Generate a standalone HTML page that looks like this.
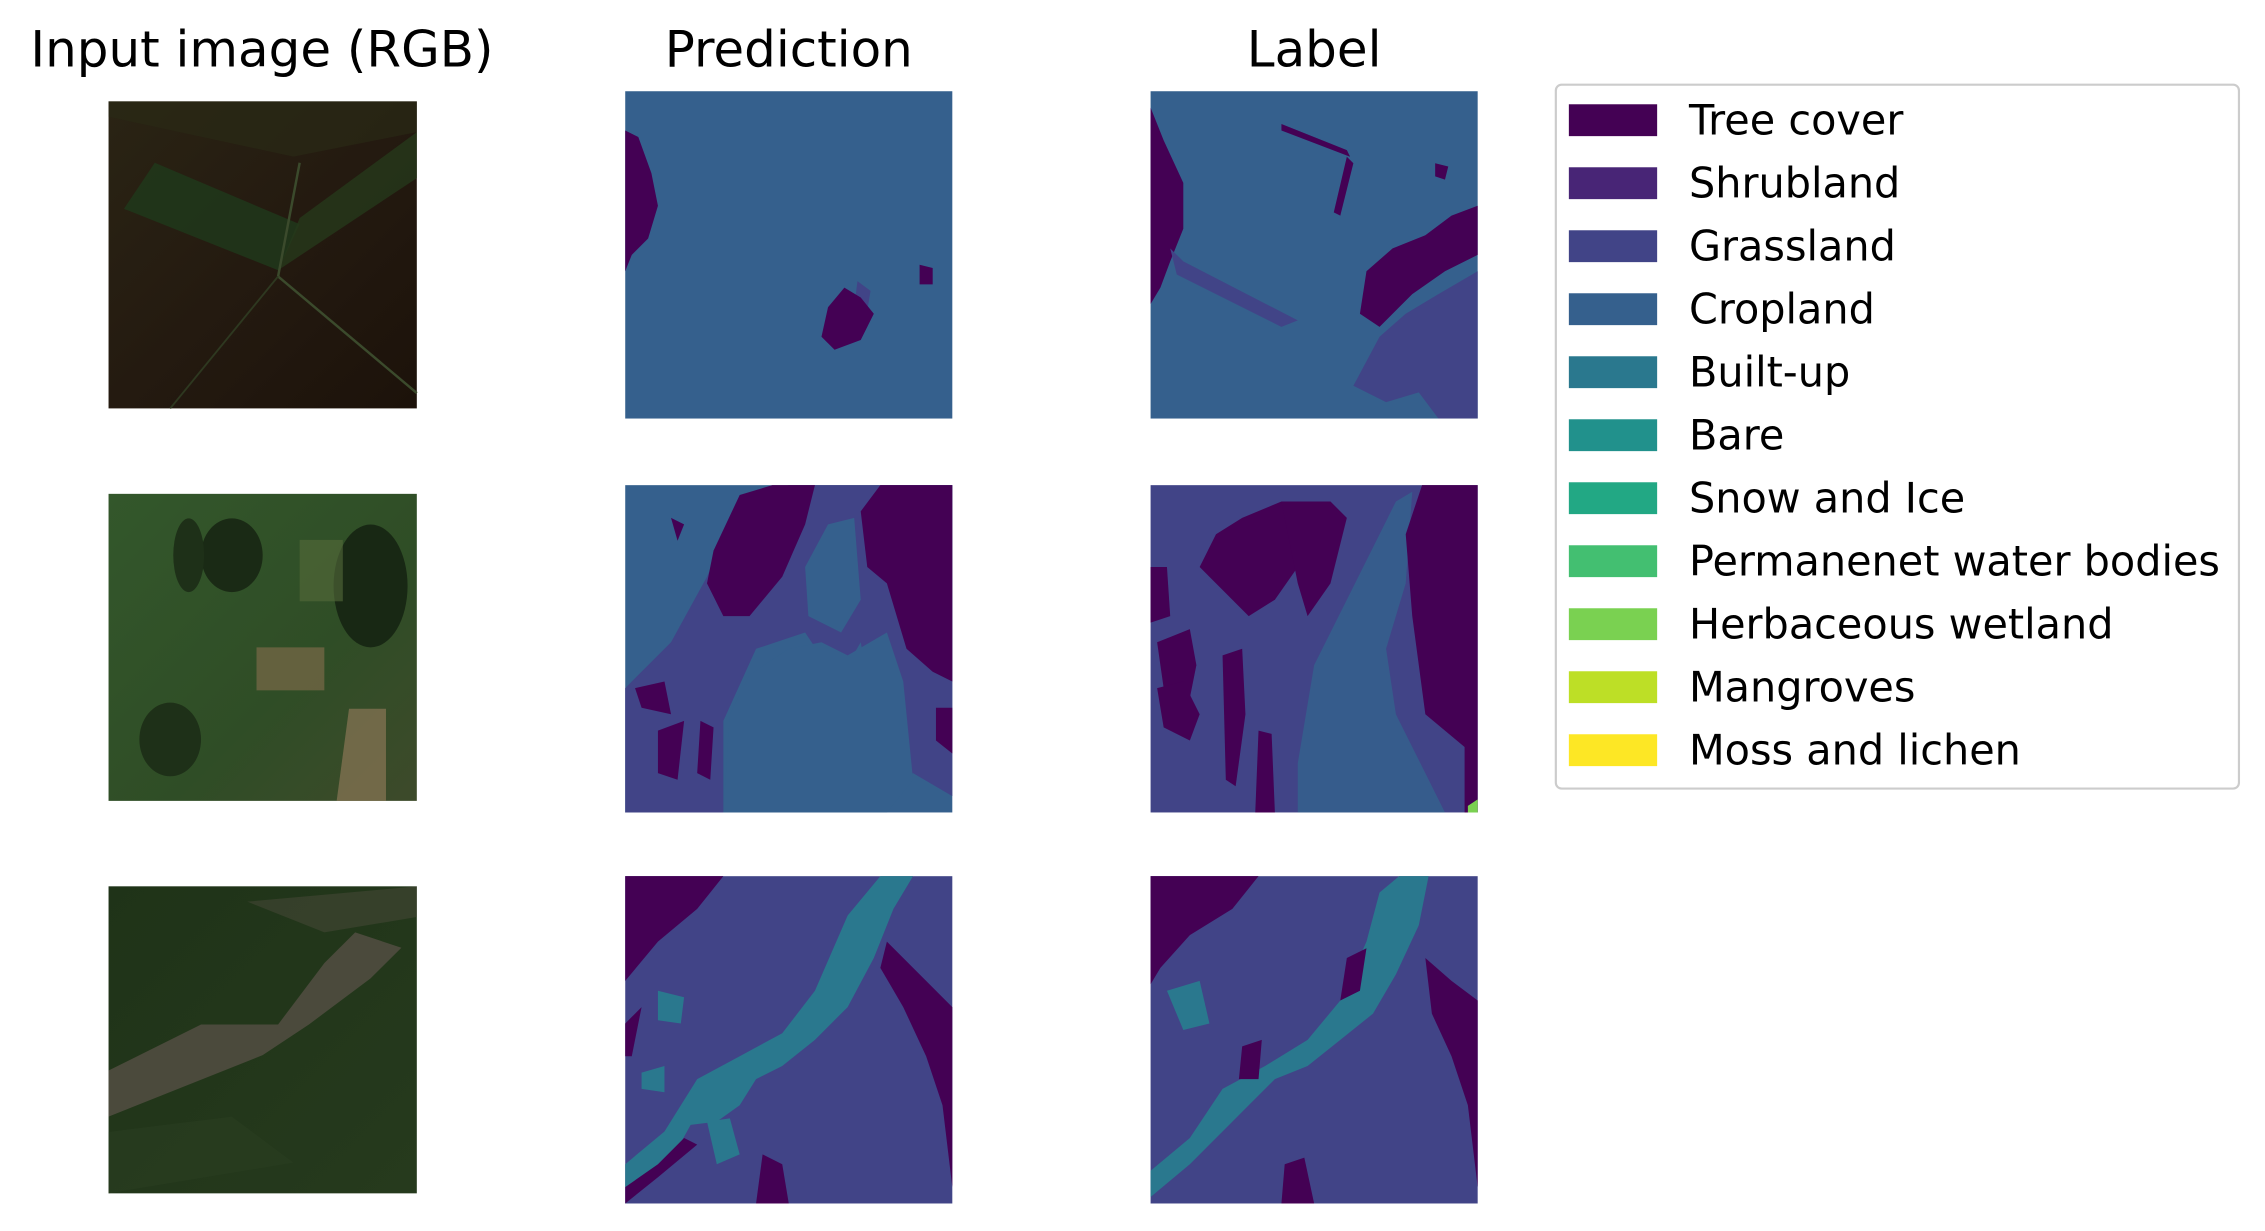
<!DOCTYPE html>
<html><head><meta charset="utf-8"><style>
html,body{margin:0;padding:0;background:#fff;}
svg{display:block;}
text{font-family:"DejaVu Sans","Liberation Sans",sans-serif;fill:#000;}
</style></head><body>
<svg id="fig" width="2265" height="1231" viewBox="0 0 1565 850" preserveAspectRatio="none" xmlns="http://www.w3.org/2000/svg">
<defs>
<linearGradient id="g1" x1="0" y1="0" x2="1" y2="1"><stop offset="0" stop-color="#2a2414"/><stop offset="0.5" stop-color="#241a10"/><stop offset="1" stop-color="#1c120a"/></linearGradient>
<linearGradient id="g2" x1="0" y1="0" x2="1" y2="1"><stop offset="0" stop-color="#33572b"/><stop offset="0.6" stop-color="#2f4d26"/><stop offset="1" stop-color="#3d4a2a"/></linearGradient>
<linearGradient id="g3" x1="0" y1="0" x2="1" y2="1"><stop offset="0" stop-color="#1f3318"/><stop offset="1" stop-color="#263a1d"/></linearGradient>
</defs>
<text x="181" y="46" font-size="34.5" text-anchor="middle">Input image (RGB)</text>
<text x="545" y="46" font-size="34.5" text-anchor="middle">Prediction</text>
<text x="908" y="46" font-size="34.5" text-anchor="middle">Label</text>

<!-- RGB images -->
<g transform="translate(75,70) scale(2.13,2.12)">
<rect width="100" height="100" fill="url(#g1)"/>
<polygon points="5,35 55,55 62,40 15,20" fill="#1f3a1c" opacity="0.8"/>
<polygon points="55,55 100,25 100,10 62,38" fill="#25381a" opacity="0.8"/>
<polygon points="0,0 100,0 100,10 60,18 0,5" fill="#2a2a16" opacity="0.7"/>
<line x1="55" y1="57" x2="100" y2="95" stroke="#3b4a2c" stroke-width="0.8"/>
<line x1="55" y1="57" x2="62" y2="20" stroke="#3b4a2c" stroke-width="0.8"/>
<line x1="55" y1="57" x2="20" y2="100" stroke="#2e3820" stroke-width="0.6"/>
</g>
<g transform="translate(75,341) scale(2.13,2.12)">
<rect width="100" height="100" fill="url(#g2)"/>
<ellipse cx="40" cy="20" rx="10" ry="12" fill="#1a2a15"/>
<ellipse cx="26" cy="20" rx="5" ry="12" fill="#1e3018"/>
<ellipse cx="85" cy="30" rx="12" ry="20" fill="#182814"/>
<ellipse cx="20" cy="80" rx="10" ry="12" fill="#1e3018"/>
<rect x="48" y="50" width="22" height="14" fill="#7a6a48" opacity="0.7"/>
<rect x="62" y="15" width="14" height="20" fill="#556a3a" opacity="0.6"/>
<polygon points="78,70 90,70 90,100 74,100" fill="#8a7655" opacity="0.7"/>
</g>
<g transform="translate(75,612) scale(2.13,2.12)">
<rect width="100" height="100" fill="url(#g3)"/>
<polygon points="0,60 30,45 55,45 70,25 80,15 95,20 85,30 65,45 50,55 25,65 0,75" fill="#5a5248" opacity="0.75"/>
<polygon points="45,5 100,0 100,10 70,15" fill="#4a4a3a" opacity="0.5"/>
<polygon points="0,80 40,75 60,90 0,100" fill="#2a3e22" opacity="0.6"/>
</g>

<!-- Prediction row 1 -->
<g transform="translate(432,63) scale(2.26,2.26)">
<rect width="100" height="100" fill="#35608d"/>
<polygon points="0,12 4,14 8,25 10,35 7,45 2,50 0,55" fill="#440154"/>
<polygon points="71,58 75,61 74,67 70,66" fill="#414487"/>
<polygon points="62,66 67,60 72,63 76,68 72,76 64,79 60,75" fill="#440154"/>
<polygon points="90,53 94,54 94,59 90,59" fill="#440154"/>
</g>
<!-- Label row 1 -->
<g transform="translate(795,63) scale(2.26,2.26)">
<rect width="100" height="100" fill="#35608d"/>
<polygon points="0,5 4,15 10,28 10,42 6,52 3,60 0,65" fill="#440154"/>
<polygon points="6,48 10,52 45,70 40,72 8,56" fill="#414487"/>
<polygon points="40,10 60,18 61,20 40,12" fill="#440154"/>
<polygon points="60,20 62,22 58,38 56,37" fill="#440154"/>
<polygon points="87,22 91,23 90,27 87,26" fill="#440154"/>
<polygon points="62,90 70,75 78,68 88,62 100,55 100,100 88,100 82,92 72,95" fill="#414487"/>
<polygon points="64,68 66,55 74,48 84,44 92,38 100,35 100,50 90,55 80,62 70,72" fill="#440154"/>
</g>

<!-- Prediction row 2 -->
<g transform="translate(432,335) scale(2.26,2.26)">
<rect width="100" height="100" fill="#35608d"/>
<polygon points="0,62 14,48 25,28 35,5 50,0 80,0 100,0 100,95 88,88 80,92 72,48 65,60 55,45 40,50 30,72 30,100 0,100" fill="#414487"/>
<polygon points="55,25 62,12 70,10 72,35 66,45 56,40" fill="#35608d"/>
<polygon points="32,70 38,58 50,50 60,48 68,52 80,45 85,60 88,90 80,100 30,100" fill="#35608d"/>
<polygon points="27,20 35,3 45,0 58,0 55,12 48,28 38,40 30,40 25,30" fill="#440154"/>
<polygon points="72,8 78,0 100,0 100,60 94,57 86,50 80,30 74,25" fill="#440154"/>
<polygon points="95,68 100,68 100,82 95,78" fill="#440154"/>
<polygon points="3,62 12,60 14,70 5,68" fill="#440154"/>
<polygon points="10,75 18,72 16,90 10,88" fill="#440154"/>
<polygon points="23,72 27,74 26,90 22,88" fill="#440154"/>
<polygon points="14,10 18,12 16,17" fill="#440154"/>
</g>
<!-- Label row 2 -->
<g transform="translate(795,335) scale(2.26,2.26)">
<rect width="100" height="100" fill="#414487"/>
<polygon points="45,85 50,55 55,45 65,25 75,5 80,2 78,30 72,50 75,70 85,90 90,100 45,100" fill="#35608d" opacity="0.85"/>
<polygon points="15,25 20,15 28,10 40,5 50,10 45,25 38,35 30,40 25,35" fill="#440154"/>
<polygon points="40,5 55,5 60,10 55,30 48,40 45,30" fill="#440154"/>
<polygon points="83,0 100,0 100,100 96,100 96,80 84,70 80,40 78,15" fill="#440154"/>
<polygon points="2,48 12,44 14,55 12,65 4,62" fill="#440154"/>
<polygon points="2,62 10,60 15,70 12,78 4,74" fill="#440154"/>
<polygon points="0,25 5,25 6,40 0,42" fill="#440154"/>
<polygon points="22,52 28,50 29,70 26,92 23,90" fill="#440154"/>
<polygon points="33,75 37,76 38,100 32,100" fill="#440154"/>
<polygon points="97,98 100,96 100,100 97,100" fill="#7ad151"/>
</g>

<!-- Prediction row 3 -->
<g transform="translate(432,605) scale(2.26,2.26)">
<rect width="100" height="100" fill="#414487"/>
<polygon points="0,0 30,0 22,10 10,20 0,32" fill="#440154"/>
<polygon points="0,45 5,40 2,55 0,55" fill="#440154"/>
<polygon points="0,88 12,78 22,62 35,55 48,48 58,35 68,12 78,0 88,0 82,10 76,25 68,40 58,50 48,58 40,62 35,70 28,75 20,76 15,85 5,92 0,95" fill="#2a788e"/>
<polygon points="25,75 32,74 35,85 28,88" fill="#2a788e"/>
<polygon points="10,35 18,37 17,45 10,44" fill="#2a788e"/>
<polygon points="5,60 12,58 12,66 5,65" fill="#2a788e"/>
<polygon points="40,100 42,85 48,88 50,100" fill="#440154"/>
<polygon points="80,20 90,30 100,40 100,95 97,70 92,55 85,40 78,28" fill="#440154"/>
<polygon points="0,95 10,88 18,80 22,82 10,92 0,100" fill="#440154"/>
</g>
<!-- Label row 3 -->
<g transform="translate(795,605) scale(2.26,2.26)">
<rect width="100" height="100" fill="#414487"/>
<polygon points="0,0 33,0 25,10 12,18 3,28 0,33" fill="#440154"/>
<polygon points="0,90 12,80 22,65 35,58 48,50 58,38 66,20 70,5 76,0 85,0 82,15 75,30 68,42 58,50 48,58 38,62 30,70 22,78 12,88 0,98" fill="#2a788e"/>
<polygon points="5,35 15,32 18,45 10,47" fill="#2a788e"/>
<polygon points="28,52 34,50 33,62 27,62" fill="#440154"/>
<polygon points="40,100 41,88 47,86 50,100" fill="#440154"/>
<polygon points="84,25 92,32 100,38 100,95 97,70 92,55 86,42" fill="#440154"/>
<polygon points="60,25 66,22 64,35 58,38" fill="#440154"/>
</g>

<!-- Legend -->
<rect x="1075" y="58.5" width="472" height="486" rx="4" fill="#fff" stroke="#cccccc" stroke-width="1.5"/>
<g id="legend"></g>
</svg>
<script>
const categories = ["Tree cover","Shrubland","Grassland","Cropland","Built-up","Bare","Snow and Ice","Permanenet water bodies","Herbaceous wetland","Mangroves","Moss and lichen"];
const classColors = ["#440154","#482576","#414487","#35608d","#2a788e","#21918c","#22a884","#43bf71","#7ad151","#bddf26","#fde725"];
const lg = document.getElementById('legend');
const NS = "http://www.w3.org/2000/svg";
categories.forEach((c,i)=>{
  const y = 83 + i*43.5;
  const r = document.createElementNS(NS,'rect');
  r.setAttribute('x',1084); r.setAttribute('y',y-11); r.setAttribute('width',61); r.setAttribute('height',22);
  r.setAttribute('fill',classColors[i]);
  
  
  lg.appendChild(r);
  const t = document.createElementNS(NS,'text');
  t.setAttribute('x',1167); t.setAttribute('y',y+10); t.setAttribute('font-size','28.6');
  t.textContent = c;
  
  
  lg.appendChild(t);
});
</script>
</body></html>
